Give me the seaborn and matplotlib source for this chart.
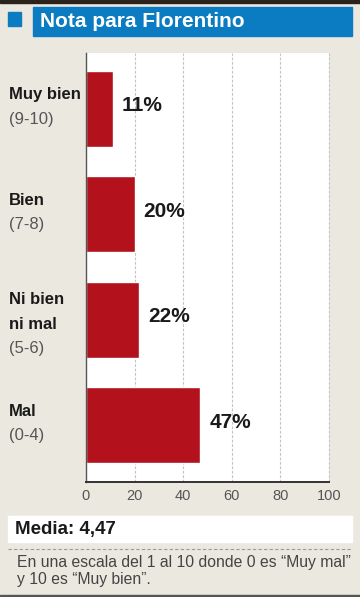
import matplotlib
matplotlib.use("Agg")
import matplotlib.pyplot as plt
import matplotlib.transforms as mtransforms
from matplotlib.patches import Rectangle
import pandas as pd
import seaborn as sns

# datos
categorias = ["Muy bien", "Bien", "Ni bien ni mal", "Mal"]
etiquetas_negrita = [["Muy bien"], ["Bien"], ["Ni bien", "ni mal"], ["Mal"]]
etiquetas_rango = ["(9-10)", "(7-8)", "(5-6)", "(0-4)"]
porcentajes = [11, 20, 22, 47]
ticks_x = [0, 20, 40, 60, 80, 100]
titulo = "Nota para Florentino"
media = "Media: 4,47"
nota = ["En una escala del 1 al 10 donde 0 es \u201cMuy mal\u201d",
        "y 10 es \u201cMuy bien\u201d."]

sns.set_style("white")
plt.rcParams['font.family'] = ['Liberation Sans', 'DejaVu Sans']

fondo = "#ebe8df"
azul = "#0b7cc1"
rojo = "#b3111c"

W, H = 360, 597
fig = plt.figure(figsize=(W / 100, H / 100), dpi=100, facecolor=fondo)

def fx(px):
    return px / W

def fy(py):
    return 1 - py / H

# cabecera
fig.patches.append(Rectangle((0, fy(3)), 1, 3 / H, transform=fig.transFigure, color="#2b221b"))
fig.patches.append(Rectangle((fx(8), fy(26)), 13 / W, 14 / H, transform=fig.transFigure, color=azul))
fig.patches.append(Rectangle((fx(33), fy(36)), 319 / W, 29 / H, transform=fig.transFigure, color=azul))
fig.text(fx(40), fy(21.5), titulo, color="white", fontsize=15, fontweight="bold", va="center", ha="left")

# grafico
ax = fig.add_axes([fx(86), fy(482), 243 / W, 429 / H])
df = pd.DataFrame({"cat": categorias, "pct": porcentajes})
sns.barplot(data=df, x="pct", y="cat", orient="h", color=rojo, width=0.72,
            saturation=1, ax=ax, zorder=3)
ax.set_facecolor("white")
ax.set_xlim(0, 100)
ax.set_ylim(3.54, -0.53)
ax.set_xticks(ticks_x)
ax.set_xticklabels([str(t) for t in ticks_x], color="#555555", fontsize=10.5)
ax.tick_params(axis="x", length=0, pad=5)
ax.set_yticks([])
ax.set_xlabel("")
ax.set_ylabel("")
for t in ticks_x[1:]:
    ax.axvline(t, color="#c4c4c4", lw=0.8, ls=(0, (2.5, 1.5)), zorder=1, clip_on=False)
for s in ["top", "right"]:
    ax.spines[s].set_visible(False)
ax.spines["left"].set_color("#555555")
ax.spines["bottom"].set_color("#333333")
ax.spines["left"].set_linewidth(1.0)
ax.spines["bottom"].set_linewidth(1.4)
ax.spines["left"].set_zorder(5)
ax.spines["bottom"].set_zorder(5)

for i, v in enumerate(porcentajes):
    ax.annotate(f"{v}%", xy=(v, i), xytext=(9, 3), textcoords="offset pixels",
                fontsize=15, fontweight="bold", color="#1a1a1a", va="center", ha="left")

mezcla = mtransforms.blended_transform_factory(fig.transFigure, ax.transData)
for i, (negr, rango) in enumerate(zip(etiquetas_negrita, etiquetas_rango)):
    lineas = [(t, "bold", "#1a1a1a") for t in negr] + [(rango, "normal", "#555555")]
    n = len(lineas)
    inicio = -14 if n == 2 else -20
    for k, (texto, peso, col) in enumerate(lineas):
        ax.annotate(texto, xy=(fx(9), i), xycoords=mezcla, xytext=(0, -(inicio + 24.5 * k)),
                    textcoords="offset pixels", fontsize=12, fontweight=peso,
                    color=col, va="center", ha="left", annotation_clip=False)

# media y nota
fig.patches.append(Rectangle((fx(8), fy(542)), 344 / W, 26 / H, transform=fig.transFigure, color="white"))
fig.text(fx(15), fy(529.5), media, fontsize=13.5, fontweight="bold", color="#1a1a1a", va="center")
fig.lines.append(plt.Line2D([fx(8), fx(352)], [fy(549), fy(549)], transform=fig.transFigure,
                            color="#9a9a9a", lw=0.8, ls=(0, (3, 2))))
for k, linea in enumerate(nota):
    fig.text(fx(17), fy(563 + 16.5 * k), linea, fontsize=11.3, color="#444444", va="center")
fig.patches.append(Rectangle((0, 0), 1, 2 / H, transform=fig.transFigure, color="#555555"))

fig.savefig("out.png", dpi=100, facecolor=fondo)
